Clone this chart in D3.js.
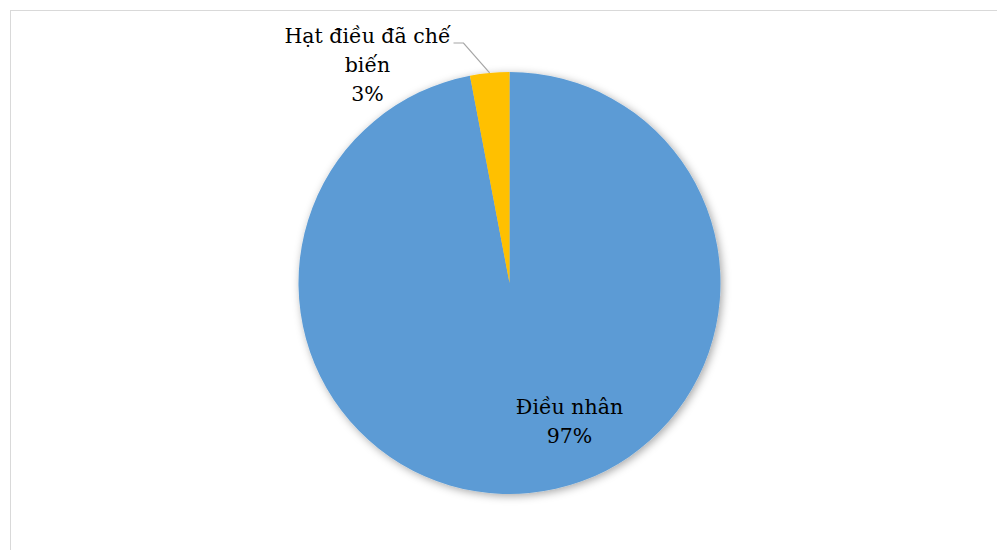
<!DOCTYPE html>
<html>
<head>
<meta charset="utf-8">
<script src="https://d3js.org/d3.v7.min.js"></script>
<style>
body { margin: 0; background: #fff; }
</style>
</head>
<body>
<div id="chart"></div>
<script>
// data
var categories = ["Điều nhân", "Hạt điều đã chế biến"];
var values = [97, 3];
var labelLines = [["Điều nhân", "97%"], ["Hạt điều đã chế", "biến", "3%"]];
var colors = ["#5b9bd5", "#ffc000"];

var width = 997, height = 550;
var cx = 509.5, cy = 283, radius = 211;

var svg = d3.select("#chart").append("svg")
    .attr("width", width)
    .attr("height", height);

// chart area border (only top and left visible)
svg.append("rect")
    .attr("x", 10.5).attr("y", 10.5)
    .attr("width", width + 20).attr("height", height + 20)
    .attr("fill", "none")
    .attr("stroke", "#d9d9d9")
    .attr("stroke-width", 1);

var defs = svg.append("defs");
var f = defs.append("filter").attr("id", "shadow")
    .attr("x", "-10%").attr("y", "-10%").attr("width", "120%").attr("height", "120%");
f.append("feDropShadow")
    .attr("dx", 2).attr("dy", 2)
    .attr("stdDeviation", 4)
    .attr("flood-color", "#000")
    .attr("flood-opacity", 0.35);

var pie = d3.pie().sort(null).value(function(d) { return d; });
var arc = d3.arc().innerRadius(0).outerRadius(radius);

var g = svg.append("g")
    .attr("transform", "translate(" + cx + "," + cy + ")");

var arcs = pie(values);

g.append("g").attr("filter", "url(#shadow)")
  .selectAll("path")
    .data(arcs)
    .enter().append("path")
    .attr("d", arc)
    .attr("fill", function(d, i) { return colors[i]; });

// label positions relative to the pie centre
var labelPos = [[60, 131], [-142, -240]];
var lineH = 28.8;

labelLines.forEach(function(lines, i) {
    var t = g.append("text")
        .attr("text-anchor", "middle")
        .attr("font-family", "DejaVu Serif")
        .attr("font-size", 20.5)
        .attr("fill", "#000")
        .attr("x", labelPos[i][0])
        .attr("y", labelPos[i][1]);
    lines.forEach(function(s, j) {
        t.append("tspan")
            .attr("x", labelPos[i][0])
            .attr("dy", j === 0 ? 0 : lineH)
            .text(s);
    });
});

// leader line for the small slice
var small = arcs[1];
var mid = (small.startAngle + small.endAngle) / 2;
var ex = Math.sin(mid) * radius, ey = -Math.cos(mid) * radius;
g.append("polyline")
    .attr("points", [[-56, -240], [-46, -240], [ex, ey]].map(function(p) { return p.join(","); }).join(" "))
    .attr("fill", "none")
    .attr("stroke", "#a6a6a6")
    .attr("stroke-width", 1.2);
</script>
</body>
</html>
